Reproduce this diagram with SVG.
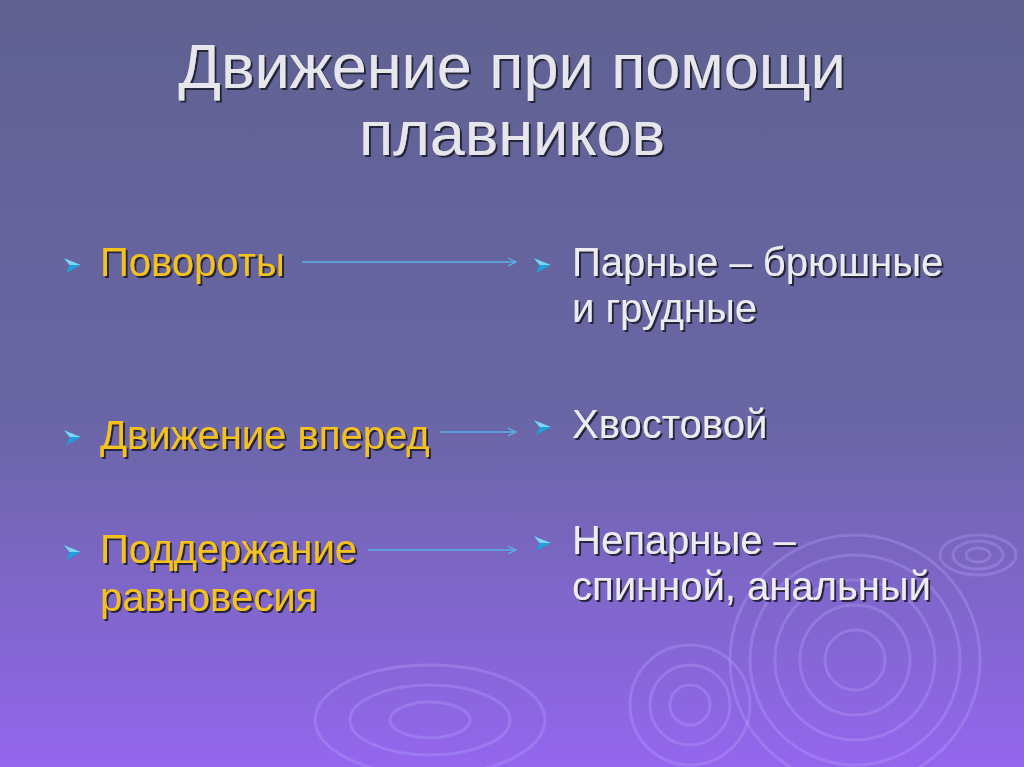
<svg xmlns="http://www.w3.org/2000/svg" width="1024" height="767" viewBox="0 0 1024 767">
<defs>
<linearGradient id="bg" x1="0" y1="0" x2="0" y2="1">
<stop offset="0" stop-color="#5f6191"/><stop offset="0.55" stop-color="#6a66a6"/><stop offset="1" stop-color="#9466ee"/>
</linearGradient>
<filter id="sh" x="-5%" y="-20%" width="110%" height="140%"><feDropShadow dx="2" dy="2" stdDeviation="0.5" flood-color="#1a1a30" flood-opacity="0.9"/></filter>
<marker id="ah" markerWidth="10" markerHeight="10" refX="9" refY="5" orient="auto" markerUnits="userSpaceOnUse"><path d="M1,1 L9,5 L1,9" fill="none" stroke="#5ab0ee" stroke-width="1.3"/></marker>
<symbol id="bul" viewBox="0 0 16 16" overflow="visible"><path d="M0,2 L15,8 L2,15 L5,8 Z" fill="#1ea0d8"/><path d="M0,2 L15,8 L5,8 Z" fill="#7fd4f4"/></symbol>
</defs>
<style>
.t{font-family:"Liberation Sans",Arial,sans-serif;filter:url(#sh)}
.ti{font-size:63px;fill:#e6e6ec}
.y{font-size:40px;fill:#f3c21c}
.w{font-size:40px;fill:#ececf0}
.r{fill:none;stroke:#b9a6ff;stroke-opacity:0.3;stroke-width:3}
</style>
<rect width="1024" height="767" fill="url(#bg)"/>
<g id="ripples">
<g class="r"><circle cx="855" cy="660" r="30"/><circle cx="855" cy="660" r="55"/><circle cx="855" cy="660" r="80"/><circle cx="855" cy="660" r="105"/><circle cx="855" cy="660" r="125"/></g>
<g class="r"><circle cx="690" cy="705" r="20"/><circle cx="690" cy="705" r="40"/><circle cx="690" cy="705" r="60"/></g>
<g class="r"><ellipse cx="430" cy="720" rx="40" ry="18"/><ellipse cx="430" cy="720" rx="80" ry="35"/><ellipse cx="430" cy="720" rx="115" ry="55"/></g>
<g class="r"><ellipse cx="978" cy="555" rx="12" ry="7"/><ellipse cx="978" cy="555" rx="25" ry="14"/><ellipse cx="978" cy="555" rx="38" ry="20"/></g>
</g>
<g id="title"><text class="t ti" x="512" y="88" text-anchor="middle">Движение при помощи</text><text class="t ti" x="512" y="155" text-anchor="middle">плавников</text></g>
<g id="n1"><use href="#bul" x="64" y="256" width="18" height="18"/><text class="t y" x="100" y="276">Повороты</text></g>
<g id="n2"><use href="#bul" x="64" y="428" width="18" height="18"/><text class="t y" x="100" y="449">Движение вперед</text></g>
<g id="n3"><use href="#bul" x="64" y="543" width="18" height="18"/><text class="t y" x="100" y="563">Поддержание</text><text class="t y" x="100" y="611">равновесия</text></g>
<g id="m1"><use href="#bul" x="534" y="256" width="18" height="18"/><text class="t w" x="572" y="276">Парные – брюшные</text><text class="t w" x="572" y="322">и грудные</text></g>
<g id="m2"><use href="#bul" x="534" y="418" width="18" height="18"/><text class="t w" x="572" y="438">Хвостовой</text></g>
<g id="m3"><use href="#bul" x="534" y="534" width="18" height="18"/><text class="t w" x="572" y="554">Непарные –</text><text class="t w" x="572" y="600">спинной, анальный</text></g>
<g id="connectors" stroke="#5ab0ee" stroke-width="1.5" marker-end="url(#ah)">
<line x1="302" y1="262" x2="516" y2="262"/>
<line x1="440" y1="432" x2="516" y2="432"/>
<line x1="368" y1="550" x2="516" y2="550"/>
</g>
</svg>
